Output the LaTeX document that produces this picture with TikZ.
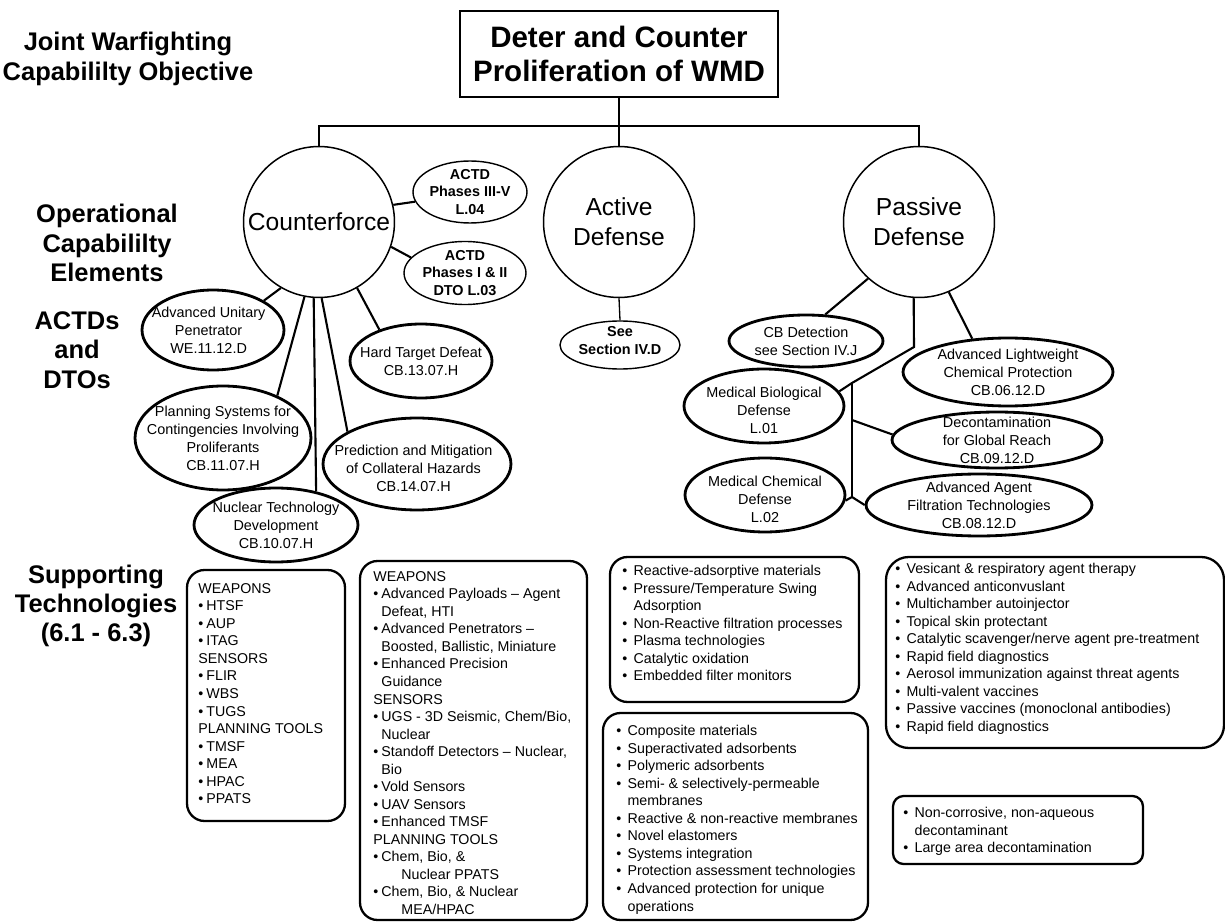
\documentclass[tikz,border=0pt]{standalone}
\usepackage{fontspec}
\setmainfont{Liberation Sans}
\usetikzlibrary{shapes.geometric}
% bullets for the technology lists
\newcommand{\wbul}{\makebox[4.6pt][l]{•}}
\newcommand{\wind}{\hspace*{4.6pt}}
\newcommand{\pbul}{\makebox[6.4pt][l]{•}}
\newcommand{\pind}{\hspace*{6.4pt}}

\begin{document}
\begin{tikzpicture}[x=0.02cm,y=-0.02cm,
    topic/.style={circle,draw,line width=0.85pt,minimum size=3.02cm,inner sep=0pt,align=center,font=\fontsize{14}{17}\selectfont},
    leaf/.style={ellipse,draw,line width=1.6pt,inner sep=0pt},
    actd/.style={ellipse,draw,line width=0.8pt,inner sep=0pt},
    ltext/.style={align=center,font=\fontsize{8.2}{10.2}\selectfont},
    btext/.style={align=center,font=\bfseries\fontsize{8.2}{10.2}\selectfont},
    tier/.style={align=center,font=\bfseries\fontsize{14.5}{16.7}\selectfont},
    link/.style={line width=1.2pt},
    techbox/.style={draw,line width=1.3pt,rounded corners=10pt},
    techlist/.style={anchor=north west,inner sep=0pt,align=left,font=\fontsize{8.1}{9.98}\selectfont}]
  \useasboundingbox (0,0) rectangle (1225,922);

  % row headings:
  \node[tier] (jwco) at (128,59) {Joint Warfighting\\Capabililty Objective};
  \node[tier] (oce) at (107,243) {Operational\\Capabililty\\Elements};
  \node[tier] (dtos) at (77,350) {ACTDs\\and\\DTOs};
  \node[tier] (supt) at (96,606) {Supporting\\Technologies\\(6.1 - 6.3)};

  % objective and elements:
  \node[draw,line width=1pt,minimum width=6.36cm,minimum height=1.72cm,align=center,
        font=\bfseries\fontsize{16.8}{19.8}\selectfont] (wmd) at (619,54) {Deter and Counter\\Proliferation of WMD};
  \node[topic] (cf) at (319,222) {Counterforce};
  \node[topic] (ad) at (619,222) {Active\\Defense};
  \node[topic] (pd) at (919,222) {Passive\\Defense};
  \coordinate (bl) at (319,126);
  \coordinate (br) at (919,126);
  \draw[line width=0.75pt] (wmd.south) -- (ad.north);
  \draw[line width=0.75pt] (cf.north) -- (bl) -- (br) -- (pd.north);

  % counterforce programs:
  \node[actd,minimum width=2.28cm,minimum height=1.24cm,label={[btext]center:{ACTD\\Phases III-V\\L.04}}] (actd3) at (470,192) {};
  \node[actd,minimum width=2.44cm,minimum height=1.26cm,label={[btext]center:{ACTD\\Phases I \& II\\DTO L.03}}] (actd1) at (465,273) {};
  \node[leaf,minimum width=2.84cm,minimum height=1.6cm,label={[ltext,xshift=-2.5pt]center:{Advanced Unitary\\Penetrator\\WE.11.12.D}}] (aup) at (213,330) {};
  \node[leaf,minimum width=2.84cm,minimum height=1.48cm,label={[ltext]center:{Hard Target Defeat\\CB.13.07.H}}] (htd) at (421,361) {};
  \node[leaf,minimum width=3.52cm,minimum height=2.08cm,label={[ltext]center:{Planning Systems for\\Contingencies Involving\\Proliferants\\CB.11.07.H}}] (psc) at (223,438) {};
  \node[leaf,minimum width=3.76cm,minimum height=1.84cm,label={[ltext,xshift=-2pt,yshift=-2.5pt]center:{Prediction and Mitigation\\of Collateral Hazards\\CB.14.07.H}}] (pmc) at (417,464) {};
  \node[leaf,minimum width=3.28cm,minimum height=1.48cm,label={[ltext]center:{Nuclear Technology\\Development\\CB.10.07.H}}] (ntd) at (276,525) {};
  \begin{scope}[link]
    \draw (cf.13) -- (actd3.190);
    \draw (cf.-19) -- (actd1.164);
    \draw (cf.-120) -- (aup.30);
    \draw (cf.-101) -- (psc.38);
    \draw (cf.-94) -- (ntd.40);
    \draw (cf.-88) -- (pmc.155);
    \draw (cf.-60) -- (htd.143);
  \end{scope}

  % active defense:
  \node[actd,minimum width=2.4cm,minimum height=0.96cm,label={[btext,yshift=2.5pt]center:{See\\Section IV.D}}] (see) at (620,345) {};
  \draw[line width=0.75pt] (ad.south) -- (see.north);

  % passive defense programs:
  \node[leaf,minimum width=3.08cm,minimum height=1.04cm,label={[ltext]center:{CB Detection\\see Section IV.J}}] (cbd) at (806,341) {};
  \node[leaf,minimum width=4.2cm,minimum height=1.36cm,label={[ltext]center:{Advanced Lightweight\\Chemical Protection\\CB.06.12.D}}] (alcp) at (1008,372) {};
  \node[leaf,minimum width=3.2cm,minimum height=1.48cm,label={[ltext,yshift=-2.5pt]center:{Medical Biological\\Defense\\L.01}}] (mbd) at (764,406) {};
  \node[leaf,minimum width=4.2cm,minimum height=1.12cm,label={[ltext]center:{Decontamination\\for Global Reach\\CB.09.12.D}}] (dgr) at (997,440) {};
  \node[leaf,minimum width=3.2cm,minimum height=1.48cm,label={[ltext,yshift=-2.5pt]center:{Medical Chemical\\Defense\\L.02}}] (mcd) at (765,495) {};
  \node[leaf,minimum width=4.52cm,minimum height=1.24cm,label={[ltext]center:{Advanced Agent\\Filtration Technologies\\CB.08.12.D}}] (aaf) at (979,505) {};
  \coordinate (pk1) at (914,347);
  \coordinate (pk2) at (852,383);
  \coordinate (pk3) at (852,420);
  \coordinate (pk4) at (852,497);
  \begin{scope}[link]
    \draw (pd.-132) -- (cbd.54);
    \draw (pd.-67) -- (alcp.137);
    \draw (pd.-94) -- (pk1) -- (pk2) -- (mbd.11);
    \draw (pk2) -- (pk4);
    \draw (pk3) -- (dgr.177);
    \draw (mcd.-4) -- (pk4) -- (aaf.west);
  \end{scope}

  % supporting technologies:
  \draw[techbox] (187,570) rectangle (345,821);
  \draw[techbox] (360,561) rectangle (587,920);
  \draw[techbox] (610,557) rectangle (859,702);
  \draw[techbox] (603,713) rectangle (868,920);
  \draw[techbox,rounded corners=13pt] (886,557) rectangle (1224,748);
  \draw[techbox,rounded corners=6pt] (893,796) rectangle (1143,864);

  \node[techlist] (wpn) at (198,583) {WEAPONS\\\wbul HTSF\\\wbul AUP\\\wbul ITAG\\SENSORS\\\wbul FLIR\\\wbul WBS\\\wbul TUGS\\
    PLANNING TOOLS\\\wbul TMSF\\\wbul MEA\\\wbul HPAC\\\wbul PPATS};
  \node[techlist] (wpnx) at (373,571) {WEAPONS\\
    \wbul Advanced Payloads – Agent\\\wind Defeat, HTI\\
    \wbul Advanced Penetrators –\\\wind Boosted, Ballistic, Miniature\\
    \wbul Enhanced Precision\\\wind Guidance\\
    SENSORS\\
    \wbul UGS - 3D Seismic, Chem/Bio,\\\wind Nuclear\\
    \wbul Standoff Detectors – Nuclear,\\\wind Bio\\
    \wbul Vold Sensors\\
    \wbul UAV Sensors\\
    \wbul Enhanced TMSF\\
    PLANNING TOOLS\\
    \wbul Chem, Bio, \&\\\hspace*{16pt}Nuclear PPATS\\
    \wbul Chem, Bio, \& Nuclear\\\hspace*{16pt}MEA/HPAC};
  \node[techlist] (filt) at (622,565) {\pbul Reactive-adsorptive materials\\
    \pbul Pressure/Temperature Swing\\\pind Adsorption\\
    \pbul Non-Reactive filtration processes\\
    \pbul Plasma technologies\\
    \pbul Catalytic oxidation\\
    \pbul Embedded filter monitors};
  \node[techlist] (prot) at (616,725) {\pbul Composite materials\\
    \pbul Superactivated adsorbents\\
    \pbul Polymeric adsorbents\\
    \pbul Semi- \& selectively-permeable\\\pind membranes\\
    \pbul Reactive \& non-reactive membranes\\
    \pbul Novel elastomers\\
    \pbul Systems integration\\
    \pbul Protection assessment technologies\\
    \pbul Advanced protection for unique\\\pind operations};
  \node[techlist] (med) at (895,563) {\pbul Vesicant \& respiratory agent therapy\\
    \pbul Advanced anticonvuslant\\
    \pbul Multichamber autoinjector\\
    \pbul Topical skin protectant\\
    \pbul Catalytic scavenger/nerve agent pre-treatment\\
    \pbul Rapid field diagnostics\\
    \pbul Aerosol immunization against threat agents\\
    \pbul Multi-valent vaccines\\
    \pbul Passive vaccines (monoclonal antibodies)\\
    \pbul Rapid field diagnostics};
  \node[techlist] (dcn) at (903,807) {\pbul Non-corrosive, non-aqueous\\\pind decontaminant\\
    \pbul Large area decontamination};
\end{tikzpicture}
\end{document}
